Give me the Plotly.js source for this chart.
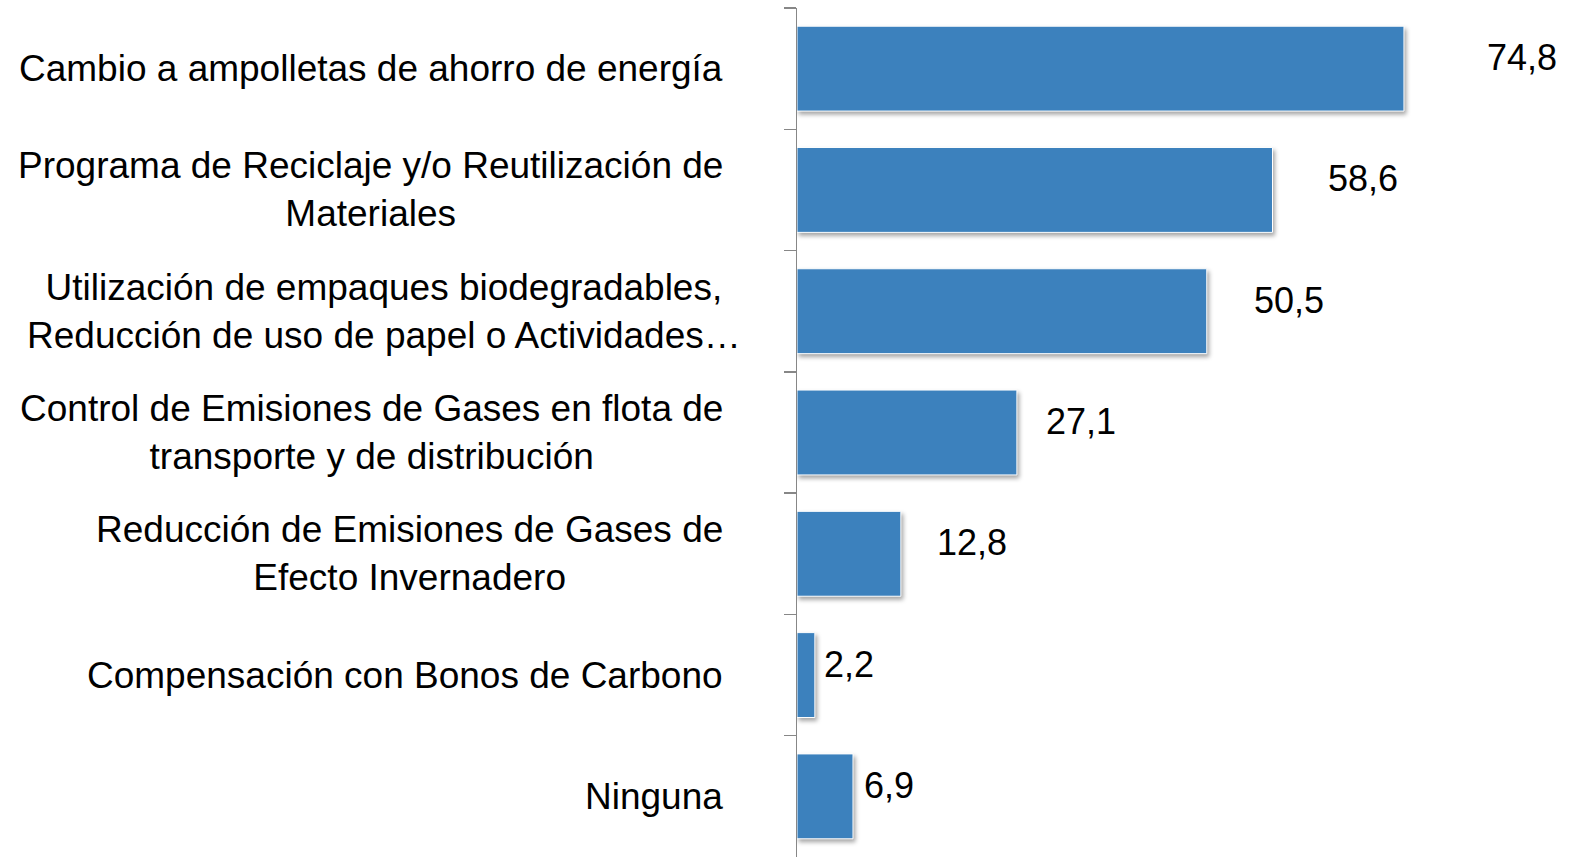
<!DOCTYPE html>
<html>
<head>
<meta charset="utf-8">
<script src="https://cdn.plot.ly/plotly-3.0.1.min.js"></script>
<style>
  html, body { margin: 0; padding: 0; background: #ffffff; }
  #chart { width: 1573px; height: 857px; }
  .barlayer .point path { filter: drop-shadow(2px 3px 2px rgba(0,0,0,0.35)); }
</style>
</head>
<body>
<div id="chart"></div>
<script>
// ---- data ----
const categories = [
  "Cambio a ampolletas de ahorro de energía",
  "Programa de Reciclaje y/o Reutilización de<br>Materiales",
  "Utilización de empaques biodegradables,<br>Reducción de uso de papel o Actividades…",
  "Control de Emisiones de Gases en flota de<br>transporte y de distribución",
  "Reducción de Emisiones de Gases de<br>Efecto Invernadero",
  "Compensación con Bonos de Carbono",
  "Ninguna"
];
const values = [74.8, 58.6, 50.5, 27.1, 12.8, 2.2, 6.9];
const valueLabels = ["74,8", "58,6", "50,5", "27,1", "12,8", "2,2", "6,9"];

// ---- style (label offsets in px) ----
const labelGapPx = [81, 53, 45, 27, 34, 7, 9];
const catShiftPx = [0, 0, 18, 0, 0, 0, 0];

const FONT = "Liberation Sans, Arial, sans-serif";
const catIds = categories.map((c, i) => "c" + i);

const trace = {
  type: "bar",
  orientation: "h",
  x: values,
  y: catIds,
  marker: { color: "#3c81bd", line: { color: "#ffffff", width: 1 } },
  hoverinfo: "skip"
};

const annotations = [];
categories.forEach((c, i) => {
  annotations.push({
    xref: "x", yref: "y", x: 0, y: catIds[i],
    text: c, showarrow: false,
    xanchor: "right", yanchor: "middle", align: "center",
    xshift: -72 + catShiftPx[i],
    font: { family: FONT, size: 37, color: "#000000" }
  });
  annotations.push({
    xref: "x", yref: "y", x: values[i], y: catIds[i],
    text: valueLabels[i], showarrow: false,
    xanchor: "left", yanchor: "middle",
    xshift: labelGapPx[i], yshift: 11,
    font: { family: FONT, size: 36, color: "#000000" }
  });
});

const layout = {
  width: 1573, height: 857,
  margin: { l: 797, r: 10, t: 8, b: 0, pad: 0 },
  paper_bgcolor: "#ffffff", plot_bgcolor: "#ffffff",
  showlegend: false,
  bargap: 0.3,
  xaxis: { range: [0, 94.4], visible: false, fixedrange: true },
  yaxis: {
    type: "category",
    autorange: "reversed",
    tickson: "boundaries",
    ticks: "outside", ticklen: 12, tickwidth: 1.5, tickcolor: "#878787",
    showline: true, linecolor: "#878787", linewidth: 1.5,
    showticklabels: false, showgrid: false, zeroline: false,
    fixedrange: true
  },
  annotations: annotations
};

Plotly.newPlot("chart", [trace], layout, { displayModeBar: false, staticPlot: true });
</script>
</body>
</html>
